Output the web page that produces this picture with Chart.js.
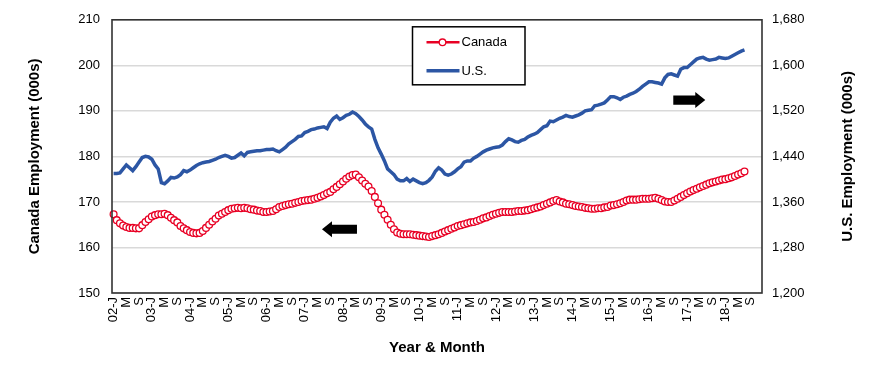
<!DOCTYPE html>
<html>
<head>
<meta charset="utf-8">
<script src="https://cdn.jsdelivr.net/npm/chart.js@4/dist/chart.umd.min.js"></script>
<style>
  html, body { margin: 0; padding: 0; background: #ffffff; }
  #wrap { width: 870px; height: 366px; }
</style>
</head>
<body>
<div id="wrap"><canvas id="c" width="870" height="366"></canvas></div>
<script>
// ---------- categories ----------
const YEARS = ['02','03','04','05','06','07','08','09','10','11','12','13','14','15','16','17','18'];
const MONTHS = ['J','F','M','A','M','J','J','A','S','O','N','D'];

// ---------- series (000s), monthly from Jan 2002 ----------
const canada = [
  167.3,166.0,165.3,164.8,164.5,164.3,164.3,164.2,164.2,164.9,165.6,166.2,
  166.8,167.1,167.3,167.3,167.4,167.1,166.5,166.0,165.5,164.7,164.2,163.8,
  163.4,163.2,163.1,163.2,163.6,164.3,165.0,165.7,166.3,167.0,167.4,167.8,
  168.2,168.5,168.6,168.7,168.6,168.7,168.6,168.4,168.3,168.1,168.0,167.8,
  167.8,167.9,168.0,168.4,168.9,169.1,169.3,169.5,169.6,169.8,170.0,170.2,
  170.3,170.4,170.5,170.7,170.9,171.2,171.5,171.9,172.2,172.8,173.3,173.9,
  174.5,175.1,175.6,175.9,176.0,175.4,174.7,174.0,173.4,172.4,171.1,169.7,
  168.3,167.2,166.1,165.0,164.0,163.3,163.0,162.9,162.9,162.9,162.8,162.7,
  162.6,162.5,162.4,162.3,162.5,162.7,162.9,163.2,163.5,163.8,164.1,164.4,
  164.7,164.9,165.1,165.3,165.5,165.6,165.8,166.1,166.4,166.6,166.9,167.2,
  167.4,167.6,167.8,167.8,167.8,167.8,167.9,168.0,168.0,168.1,168.2,168.4,
  168.6,168.8,169.0,169.3,169.6,169.9,170.2,170.4,170.1,169.9,169.6,169.5,
  169.3,169.1,169.0,168.9,168.7,168.6,168.5,168.5,168.6,168.6,168.8,168.9,
  169.2,169.3,169.5,169.7,170.0,170.3,170.5,170.5,170.5,170.6,170.7,170.7,
  170.7,170.8,170.9,170.7,170.4,170.1,170.0,170.0,170.3,170.7,171.1,171.5,
  171.9,172.3,172.6,172.9,173.2,173.5,173.8,174.1,174.3,174.5,174.7,174.9,
  175.0,175.2,175.4,175.7,176.0,176.3,176.7
];
const us = [
  1410,1410,1411,1418,1425,1420,1415,1422,1430,1438,1440,1439,
  1435,1425,1418,1394,1392,1397,1403,1402,1404,1408,1415,1413,
  1416,1420,1424,1427,1429,1430,1431,1433,1435,1438,1440,1442,
  1440,1437,1438,1442,1446,1441,1447,1448,1449,1450,1450,1451,
  1452,1452,1453,1450,1448,1452,1456,1462,1466,1470,1475,1476,
  1482,1484,1487,1488,1490,1491,1492,1489,1500,1507,1511,1505,
  1508,1512,1514,1518,1515,1510,1504,1497,1492,1488,1470,1455,
  1444,1432,1418,1413,1408,1400,1397,1397,1401,1396,1400,1397,
  1394,1392,1394,1398,1404,1414,1420,1416,1409,1407,1409,1413,
  1418,1422,1430,1432,1432,1437,1440,1444,1448,1451,1453,1455,
  1456,1457,1460,1466,1471,1469,1466,1465,1468,1470,1474,1477,
  1479,1482,1487,1492,1494,1502,1501,1504,1507,1509,1512,1510,
  1509,1511,1513,1516,1520,1521,1522,1529,1530,1532,1534,1539,
  1545,1545,1543,1540,1544,1546,1549,1551,1554,1558,1563,1567,
  1571,1571,1570,1569,1567,1578,1584,1585,1583,1581,1593,1596,
  1596,1601,1606,1611,1613,1614,1611,1609,1610,1611,1614,1613,
  1612,1613,1616,1619,1622,1625,1627
];

// ---------- axis ranges / ticks ----------
const LEFT_RANGE = [150, 210, 10];
const RIGHT_RANGE = [1200, 1680, 80];

const labels = [];
YEARS.forEach(y => MONTHS.forEach((m, k) => labels.push(k === 0 ? y + '-' + m : m)));

const RED = 'rgb(232,0,36)';
const BLUE = '#2C56A4';
const FONT = "'Liberation Sans', Arial, sans-serif";

const overlay = {
  id: 'overlay',
  afterDraw(chart) {
    const { ctx, chartArea: a, scales } = chart;
    ctx.save();
    // plot border
    ctx.strokeStyle = '#333333';
    ctx.lineWidth = 1.6;
    ctx.strokeRect(a.left, a.top, a.right - a.left, a.bottom - a.top);

    // arrows (annotations)
    function arrow(tipX, y, dir, len) {
      const headL = 10, headH = 8, bodyH = 4.6;
      const base = tipX - dir * headL;
      const tail = tipX - dir * len;
      ctx.beginPath();
      ctx.moveTo(tipX, y);
      ctx.lineTo(base, y - headH);
      ctx.lineTo(base, y - bodyH);
      ctx.lineTo(tail, y - bodyH);
      ctx.lineTo(tail, y + bodyH);
      ctx.lineTo(base, y + bodyH);
      ctx.lineTo(base, y + headH);
      ctx.closePath();
      ctx.fillStyle = '#000';
      ctx.fill();
    }
    arrow(scales.x.getPixelForValue(65.4), scales.y.getPixelForValue(164.0), -1, 35);
    arrow(scales.x.getPixelForValue(185.7), scales.y2.getPixelForValue(1539), 1, 32);

    // legend box
    const lx = a.left + 300.5, ly = a.top + 7, lw = 112.5, lh = 58;
    ctx.fillStyle = '#fff';
    ctx.fillRect(lx, ly, lw, lh);
    ctx.strokeStyle = '#000';
    ctx.lineWidth = 1.5;
    ctx.strokeRect(lx, ly, lw, lh);
    const rows = [
      { y: ly + 15.5, color: RED, text: 'Canada', marker: true },
      { y: ly + 44, color: BLUE, text: 'U.S.', marker: false }
    ];
    ctx.font = "13px " + FONT;
    ctx.textBaseline = 'middle';
    ctx.textAlign = 'left';
    rows.forEach(r => {
      ctx.strokeStyle = r.color;
      ctx.lineWidth = r.marker ? 2.5 : 3.5;
      ctx.beginPath();
      ctx.moveTo(lx + 14, r.y);
      ctx.lineTo(lx + 47, r.y);
      ctx.stroke();
      if (r.marker) {
        ctx.beginPath();
        ctx.arc(lx + 30, r.y, 3.3, 0, Math.PI * 2);
        ctx.fillStyle = '#fff';
        ctx.fill();
        ctx.lineWidth = 1.3;
        ctx.stroke();
      }
      ctx.fillStyle = '#000';
      ctx.fillText(r.text, lx + 49, r.y + 0.5);
    });

    // right axis title (reads bottom to top)
    ctx.save();
    ctx.translate(848, (a.top + a.bottom) / 2);
    ctx.rotate(-Math.PI / 2);
    ctx.font = "bold 15px " + FONT;
    ctx.textAlign = 'center';
    ctx.textBaseline = 'middle';
    ctx.fillStyle = '#000';
    ctx.fillText('U.S. Employment (000s)', 0, 0);
    ctx.restore();

    ctx.restore();
  }
};

new Chart(document.getElementById('c'), {
  type: 'line',
  data: {
    labels: labels,
    datasets: [
      {
        label: 'U.S.',
        data: us,
        yAxisID: 'y2',
        borderColor: BLUE,
        borderWidth: 3.5,
        pointRadius: 0,
        tension: 0,
        order: 2
      },
      {
        label: 'Canada',
        data: canada,
        yAxisID: 'y',
        borderColor: RED,
        borderWidth: 2,
        pointRadius: 3.4,
        pointBorderWidth: 1.3,
        pointBackgroundColor: '#ffffff',
        pointBorderColor: RED,
        tension: 0,
        order: 1
      }
    ]
  },
  options: {
    responsive: false,
    animation: false,
    devicePixelRatio: 1,
    layout: { padding: { top: 19, right: 0, bottom: 0, left: 0 } },
    plugins: { legend: { display: false }, tooltip: { enabled: false } },
    scales: {
      x: {
        type: 'category',
        offset: true,
        grid: { display: false, drawTicks: false },
        border: { display: false },
        ticks: {
          autoSkip: false,
          maxRotation: 90,
          minRotation: 90,
          padding: 4,
          color: '#000',
          font: { family: FONT, size: 13 },
          callback: function(v, i) { return i % 4 === 0 ? labels[i] : ''; }
        },
        title: {
          display: true,
          text: 'Year & Month',
          color: '#000',
          font: { family: FONT, size: 15, weight: 'bold' },
          padding: { top: 0, bottom: 9 }
        },
        afterFit: s => { s.height = 73; }
      },
      y: {
        position: 'left',
        min: LEFT_RANGE[0],
        max: LEFT_RANGE[1],
        ticks: { stepSize: LEFT_RANGE[2], padding: 12, color: '#000', font: { family: FONT, size: 13 } },
        grid: { color: '#d9d9d9', lineWidth: 1.5, drawTicks: false },
        border: { display: false },
        title: {
          display: true,
          text: 'Canada Employment (000s)',
          color: '#000',
          font: { family: FONT, size: 15, weight: 'bold' },
          padding: { top: 26, bottom: 0 }
        },
        afterFit: s => { s.width = 112; }
      },
      y2: {
        position: 'right',
        min: RIGHT_RANGE[0],
        max: RIGHT_RANGE[1],
        ticks: {
          stepSize: RIGHT_RANGE[2], padding: 10, color: '#000', font: { family: FONT, size: 13 },
          callback: v => v.toLocaleString('en-US')
        },
        grid: { display: false, drawTicks: false },
        border: { display: false },
        afterFit: s => { s.width = 108; }
      }
    }
  },
  plugins: [overlay]
});
</script>
</body>
</html>
